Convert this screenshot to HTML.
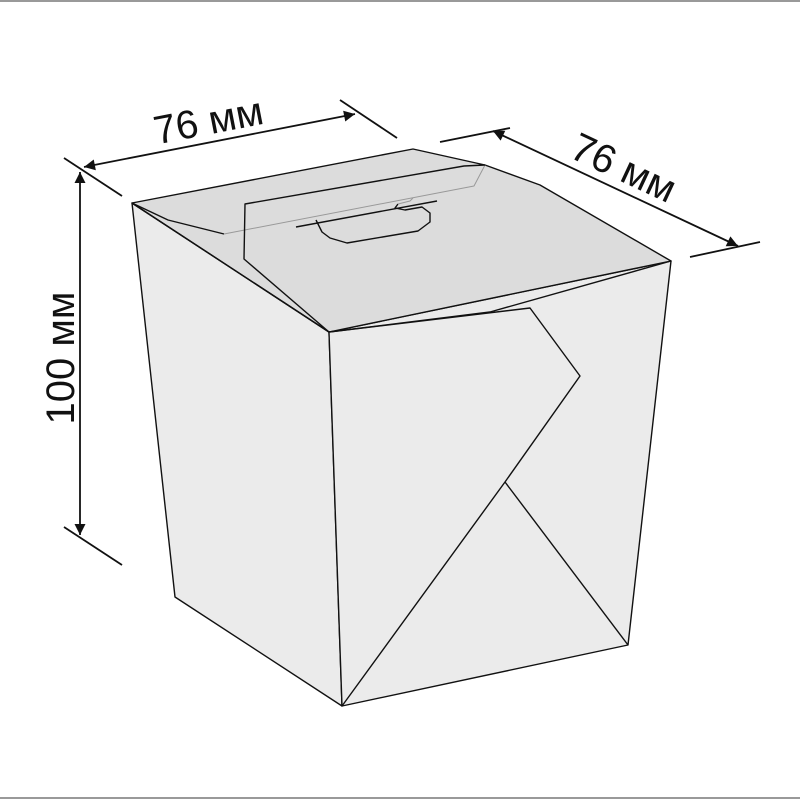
<!DOCTYPE html>
<html><head><meta charset="utf-8"><style>
html,body{margin:0;padding:0;background:#fff;}
svg{display:block;}
text{font-family:"Liberation Sans","DejaVu Sans",sans-serif;fill:#111;}
</style></head><body>
<svg width="800" height="800" viewBox="0 0 800 800">
<defs>
<marker id="ar" viewBox="0 0 10 10" refX="10" refY="5" markerWidth="20" markerHeight="11" markerUnits="userSpaceOnUse" orient="auto-start-reverse"><path d="M0,0L10,5L0,10z" fill="#111"/></marker>
</defs>
<line x1="0" y1="1" x2="800" y2="1" stroke="#999" stroke-width="2"/>
<line x1="0" y1="798" x2="800" y2="798" stroke="#999" stroke-width="2"/>
<g stroke="#111" stroke-width="1.4" stroke-linejoin="round" fill="none">
<polygon points="132,203 175,597 342,706 329,332" fill="#ebebeb"/>
<polygon points="329,332 342,706 628,645 671,261" fill="#ebebeb"/>
<polygon points="132,203 413,149 485,165 540,185 671,261 329,332" fill="#dcdcdc"/>
<polyline points="132,203 168,220 224,234"/>
<polyline points="224,234 474,186 485,165" stroke="#999" stroke-width="1"/>
<polyline points="132,203 329,332"/>
<polyline points="485,165 464,166 245,204 244,259 329,332"/>
<line x1="296" y1="227" x2="437" y2="201"/>
<polyline points="316,220 322,232 330,238 347,243 418,231 430,222 430,213 422,207 405,210 395,208 398,204"/>
<polyline points="398,204 410,201 413,198" stroke="#999" stroke-width="1"/>
<polyline points="329,332 490,312 671,261"/>
<polyline points="329,332 530,308 580,376 505,482 342,706"/>
<line x1="505" y1="482" x2="628" y2="645"/>
</g>
<g stroke="#111" stroke-width="1.8">
<line x1="64" y1="158" x2="122" y2="196"/>
<line x1="340" y1="100" x2="397" y2="138"/>
<line x1="84" y1="167" x2="355" y2="114" marker-start="url(#ar)" marker-end="url(#ar)"/>
<line x1="440" y1="142" x2="510" y2="128"/>
<line x1="690" y1="257" x2="760" y2="242"/>
<line x1="493" y1="131" x2="738" y2="246" marker-start="url(#ar)" marker-end="url(#ar)"/>
<line x1="64" y1="527" x2="122" y2="565"/>
<line x1="80" y1="172" x2="80" y2="535" marker-start="url(#ar)" marker-end="url(#ar)"/>
</g>
<text x="211" y="134" font-size="40" text-anchor="middle" transform="rotate(-11 211 134)">76 мм</text>
<text x="618" y="180" font-size="40" text-anchor="middle" transform="rotate(25 618 180)">76 мм</text>
<text x="74" y="358" font-size="40" text-anchor="middle" transform="rotate(-90 74 358)">100 мм</text>
</svg>
</body></html>
